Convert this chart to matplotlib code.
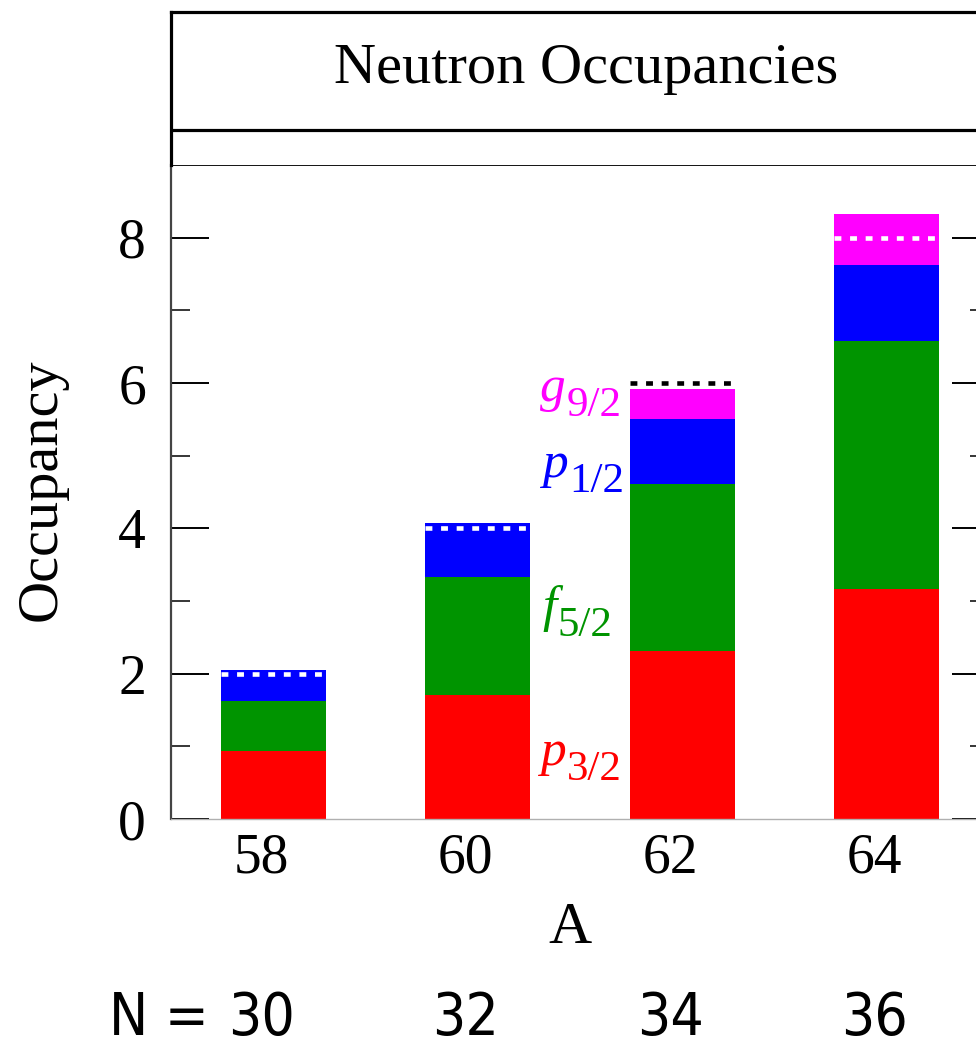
import matplotlib
matplotlib.use("Agg")
import matplotlib.pyplot as plt
from matplotlib.transforms import ScaledTranslation, blended_transform_factory
import numpy as np

# Mass numbers of the Ni isotopes and the matching neutron numbers
A = [58, 60, 62, 64]
N = [30, 32, 34, 36]

# Neutron occupancies of each orbital (stacked)
p32 = [0.94, 1.71, 2.31, 3.17]
f52 = [0.69, 1.62, 2.30, 3.41]
p12 = [0.42, 0.74, 0.90, 1.05]
g92 = [0.00, 0.00, 0.41, 0.70]

orbital_letters = ["p", "f", "p", "g"]
orbital_j = ["3/2", "5/2", "1/2", "9/2"]
orbital_colors = ["#ff0000", "#009400", "#0000ff", "#ff00ff"]
CORE_N = 28

plt.rcParams["font.family"] = "Liberation Serif"

W, H, DPI = 976, 1039, 100
fig = plt.figure(figsize=(W / DPI, H / DPI), dpi=DPI)

# main panel (its right edge runs just past the figure edge)
x0, x1 = 171, 989
y_top, y_bot = 165, 819
ax = fig.add_axes([x0 / W, (H - y_bot) / H, (x1 - x0) / W, (y_bot - y_top) / H])

bottom = np.zeros(len(A))
for vals, col in zip([p32, f52, p12, g92], orbital_colors):
    ax.bar(A, vals, width=1.03, bottom=bottom, color=col, linewidth=0, zorder=2)
    bottom += np.array(vals)

# expected number of valence neutrons above the N=28 core
valence = [n - CORE_N for n in N]
line_cols = ["white" if tot >= v else "black" for tot, v in zip(bottom, valence)]
half = 1.03 / 2
ax.hlines(valence, np.array(A) - half, np.array(A) + half, colors=line_cols,
          linewidth=3.3, linestyles=[(0, (1.5, 1.9))], capstyle="butt", zorder=3)

ax.set_xlim(57, 65)
ax.set_ylim(0, 9)
ax.set_yticks([0, 2, 4, 6, 8])
ax.set_yticks([1, 3, 5, 7], minor=True)
ax.tick_params(axis="y", which="major", direction="in", length=27, width=1.4,
               labelsize=40, pad=18, left=True, right=True)
ax.tick_params(axis="y", which="minor", direction="in", length=13.7, width=1.1,
               left=True, right=True)
ax.set_xticks(A)
ax.set_xticklabels([str(a) for a in A])
ax.tick_params(axis="x", length=0, labelsize=40, pad=10)
shift = ScaledTranslation(-12 / DPI, 0, fig.dpi_scale_trans)
for lbl in ax.get_xticklabels():
    lbl.set_transform(lbl.get_transform() + shift)

ax.spines["left"].set_color("#444444")
ax.spines["left"].set_linewidth(1.6)
ax.spines["bottom"].set_color("#b0b0b0")
ax.spines["bottom"].set_linewidth(1.0)
ax.spines["top"].set_color("black")
ax.spines["top"].set_linewidth(1.3)
ax.spines["right"].set_linewidth(1.6)

# orbital labels next to the A=62 column: italic letter + upright j subscript
label_x = [61.41, 61.32, 61.43, 61.41]
label_y = [0.745, 2.72, 4.70, 5.75]
renderer = fig.canvas.get_renderer()
sub_drop = ScaledTranslation(0, -15 / DPI, fig.dpi_scale_trans)
for let, j, col, lx, ly in zip(orbital_letters, orbital_j, orbital_colors, label_x, label_y):
    sub = ax.text(lx, ly, j, color=col, ha="right", va="baseline", fontsize=31,
                  transform=ax.transData + sub_drop)
    bb = sub.get_window_extent(renderer)
    gap = ScaledTranslation(-(bb.width + 1) / DPI, 0, fig.dpi_scale_trans)
    ax.text(lx, ly, let, color=col, ha="right", va="baseline", fontsize=37,
            fontstyle="italic", transform=ax.transData + gap)

# title panel
t_top = 12
axt = fig.add_axes([x0 / W, (H - y_top) / H, (x1 - x0) / W, (y_top - t_top) / H])
axt.set_xlim(0, 1)
axt.set_ylim(0, 1)
axt.set_xticks([])
axt.set_yticks([])
for s in ["top", "left", "right"]:
    axt.spines[s].set_linewidth(2.3)
    axt.spines[s].set_color("black")
axt.spines["bottom"].set_visible(False)
axt.axhline((y_top - 130) / (y_top - t_top), color="black", linewidth=2.3)
axt.text((586 - x0) / (x1 - x0), (y_top - 83) / (y_top - t_top), "Neutron Occupancies",
         ha="center", va="baseline", fontsize=42)

# axis labels
fig.text(42 / W, 1 - 490 / H, "Occupancy", rotation=90, ha="center", va="center", fontsize=42)
fig.text(570 / W, (H - 943) / H, "A", ha="center", va="baseline", fontsize=43)

# neutron numbers under each column
row_y = (H - 1035) / H
trans = blended_transform_factory(ax.transData, fig.transFigure) + shift
sans = dict(family=["DejaVu Sans"], fontstretch="condensed", fontsize=42)
for a, n in zip(A, N):
    fig.text(a, row_y, str(n), transform=trans, ha="center", va="baseline", **sans)
fig.text(109 / W, row_y, "N =", ha="left", va="baseline", **sans)

fig.savefig("out.png", dpi=DPI)
